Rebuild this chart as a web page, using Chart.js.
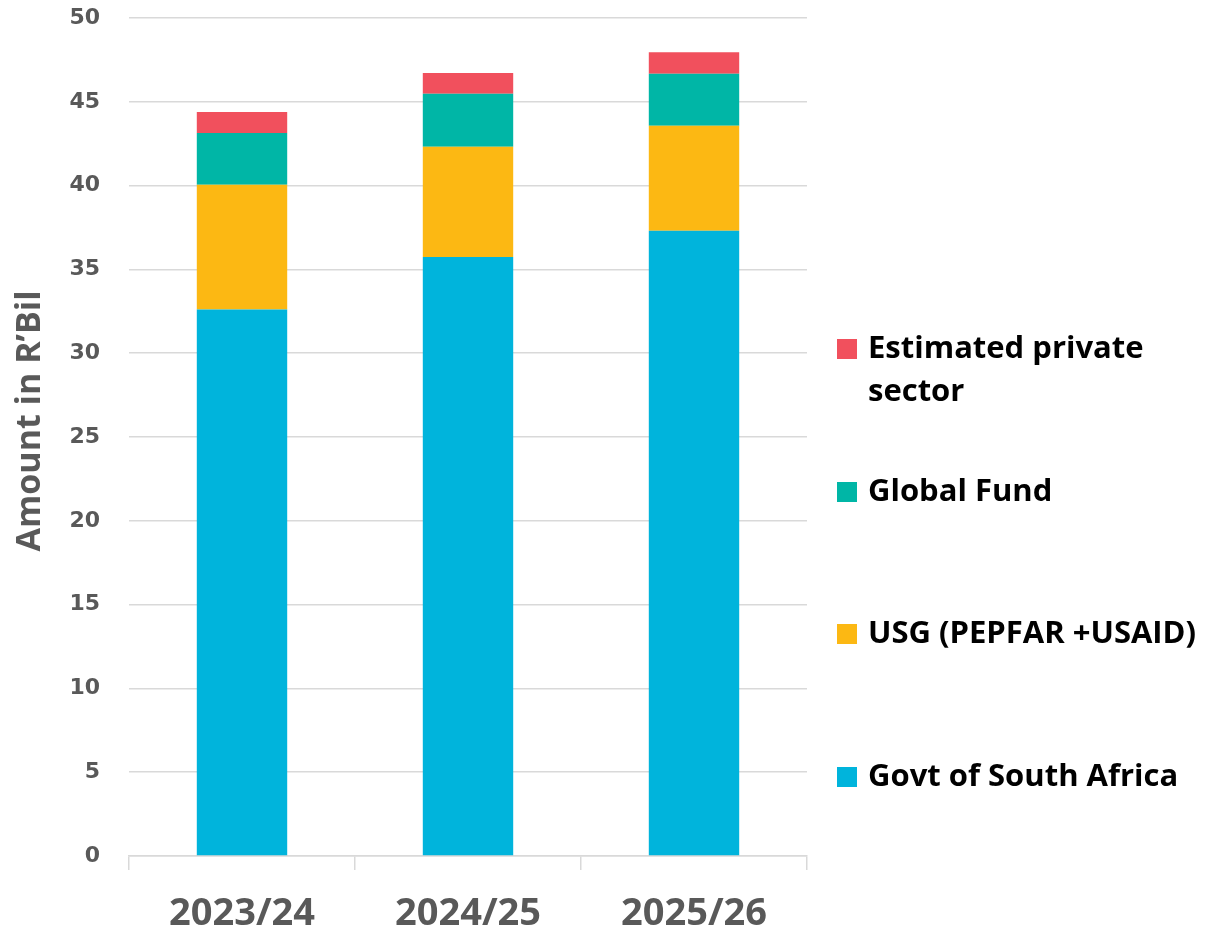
<!DOCTYPE html>
<html>
<head>
<meta charset="utf-8">
<script src="https://cdn.jsdelivr.net/npm/chart.js@4"></script>
<style>
  html, body { margin: 0; padding: 0; background: #fff; }
  #wrap { width: 1213px; height: 929px; }
</style>
</head>
<body>
<div id="wrap"><canvas id="fundChart" width="1213" height="929"></canvas></div>
<script>
(function() {
  // Data (R' billion)
  const years = ["2023/24", "2024/25", "2025/26"];
  const govtSA = [32.6, 35.74, 37.31];
  const usg = [7.45, 6.58, 6.26];
  const globalFund = [3.09, 3.16, 3.11];
  const privateSector = [1.25, 1.24, 1.27];
  const yTicks = [0, 5, 10, 15, 20, 25, 30, 35, 40, 45, 50];

  const grey = "#595959";
  const gridGrey = "#d9d9d9";

  const datasets = [
    { label: "Govt of South Africa", data: govtSA, backgroundColor: "#00b4dc" },
    { label: "USG (PEPFAR +USAID)", data: usg, backgroundColor: "#fcb813" },
    { label: "Global Fund", data: globalFund, backgroundColor: "#00b6a6" },
    { label: ["Estimated private", "sector"], data: privateSector, backgroundColor: "#f1505d" }
  ];

  // Legend on the right + rotated axis title, drawn by hand
  const sideLegendPlugin = {
    id: "sideLegend",
    afterDraw(chart) {
      const { ctx } = chart;
      ctx.save();

      // y axis title
      ctx.translate(30, 421);
      ctx.rotate(-Math.PI / 2);
      ctx.fillStyle = grey;
      ctx.font = "bold 34px 'Open Sans'";
      ctx.textAlign = "center";
      ctx.textBaseline = "middle";
      ctx.fillText("Amount in R\u2019Bil", 0, 0);
      ctx.setTransform(1, 0, 0, 1, 0, 0);

      // legend items, top to bottom in reverse stack order
      const centers = [777, 634, 492, 349];
      ctx.font = "bold 31px 'Open Sans'";
      ctx.textAlign = "left";
      ctx.textBaseline = "middle";
      chart.data.datasets.forEach((ds, i) => {
        const cy = centers[i];
        ctx.fillStyle = ds.backgroundColor;
        ctx.fillRect(837, cy - 10, 20, 20);
        ctx.fillStyle = "#000";
        const lines = Array.isArray(ds.label) ? ds.label : [ds.label];
        lines.forEach((t, j) => ctx.fillText(t, 868, cy + j * 43));
      });
      ctx.restore();
    }
  };

  new Chart(document.getElementById("fundChart"), {
    type: "bar",
    data: {
      labels: years,
      datasets: datasets.map(d => Object.assign({
        borderWidth: 0,
        barPercentage: 0.4,
        categoryPercentage: 1
      }, d))
    },
    options: {
      responsive: false,
      animation: false,
      layout: { padding: { top: 18, right: 406, left: 0, bottom: 0 } },
      plugins: { legend: { display: false }, tooltip: { enabled: false } },
      scales: {
        x: {
          stacked: true,
          grid: {
            offset: true,
            drawOnChartArea: false,
            color: gridGrey,
            lineWidth: 1.5,
            tickLength: 14
          },
          border: { display: true, color: gridGrey, width: 1.5 },
          ticks: {
            color: grey,
            padding: 21,
            font: { family: "'Open Sans'", size: 38, weight: "bold" }
          },
          afterFit(scale) {
            scale.height = 73;
            scale.paddingLeft = 0;
            scale.paddingRight = 0;
          }
        },
        y: {
          stacked: true,
          min: 0,
          max: 50,
          afterBuildTicks(scale) { scale.ticks = yTicks.map(v => ({ value: v })); },
          grid: { color: gridGrey, lineWidth: 1.5, drawTicks: false },
          border: { display: false },
          ticks: {
            color: grey,
            padding: 29,
            font: { family: "'DejaVu Sans'", size: 22, weight: "bold" }
          },
          afterFit(scale) {
            scale.width = 129;
            scale.paddingTop = 0;
            scale.paddingBottom = 0;
          }
        }
      }
    },
    plugins: [sideLegendPlugin]
  });
})();
</script>
</body>
</html>
